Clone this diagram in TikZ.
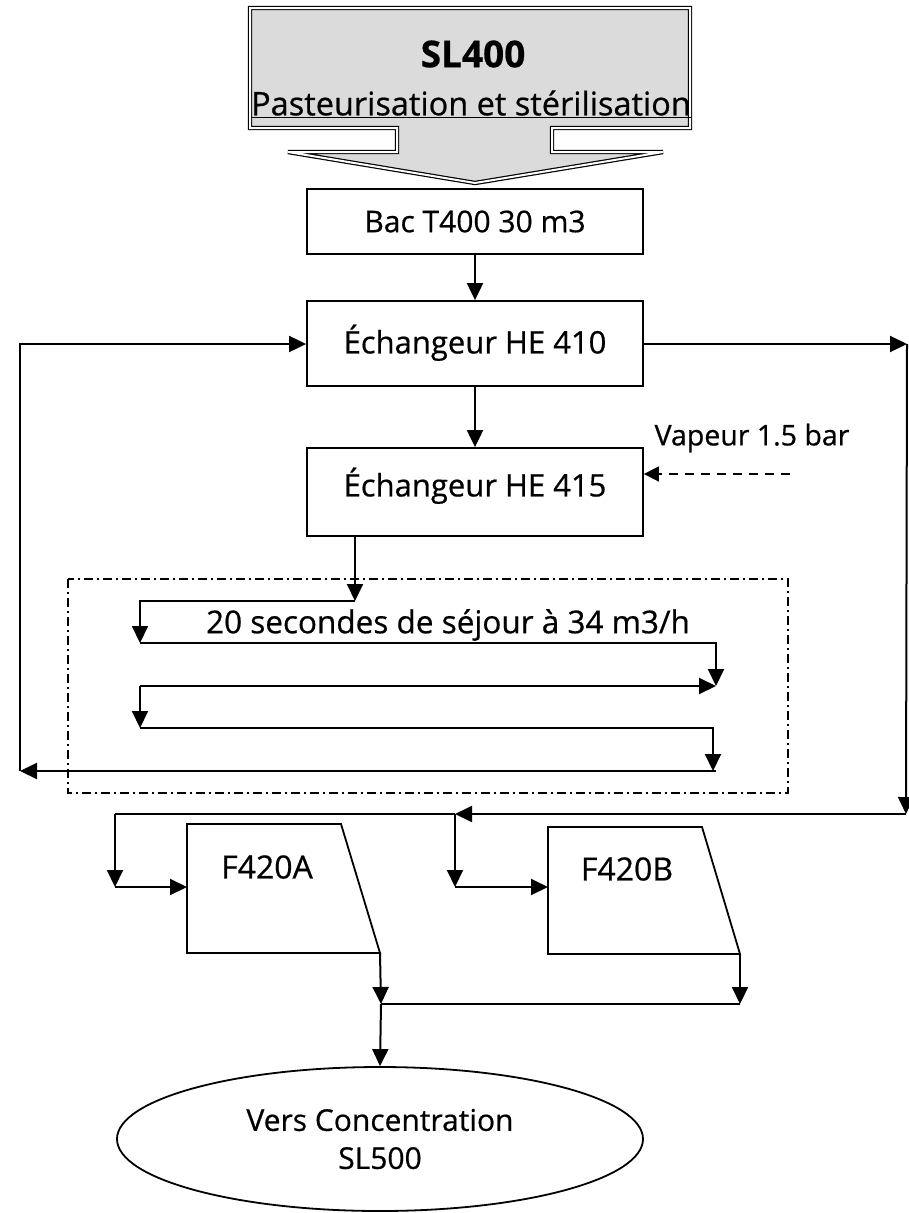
\documentclass[tikz,border=0pt]{standalone}
\usepackage{fontspec}
\setmainfont{Open Sans}[FakeBold=0.6]
\usetikzlibrary{arrows.meta,shapes.geometric}
\begin{document}
\begin{tikzpicture}[x=1pt,y=-1pt,
  every node/.style={font=\fontsize{30}{36}\selectfont},
  box/.style={draw,line width=1.8pt,minimum width=336pt,inner sep=0pt},
  arr/.style={line width=2pt,-{Triangle[length=17pt,width=16pt]}},
  ln/.style={line width=2pt},
  shp/.style={draw,line width=1.8pt,line join=miter}]
\useasboundingbox (0,0) rectangle (908,1213);

% banner
\path[fill=black!14,draw,line width=1.2pt,double distance=2pt]
  (250,8) -- (690,8) -- (690,128) -- (552,128) -- (552,152) -- (663,152)
  -- (475,183) -- (288,152) -- (397,152) -- (397,128) -- (250,128) -- cycle;
\node[font=\fontsize{37}{42}\selectfont\bfseries] (t1) at (473,54) {SL400};
\node[font=\fontsize{32.5}{38}\selectfont,inner sep=0pt] (t2) at (471,104) {\underline{Pasteurisation et stérilisation}};

% boxes
\node[box,minimum height=65pt] (bac) at (475,221.5) {Bac T400 30 m3};
\node[box,minimum height=85pt,font=\fontsize{31}{36}\selectfont] (he410) at (475,343.5) {\raisebox{9pt}{Échangeur HE 410}};
\node[box,minimum height=88pt,font=\fontsize{31}{36}\selectfont] (he415) at (475,492) {\raisebox{20pt}{Échangeur HE 415}};

\draw[arr] (bac.south) -- (he410.north);
\draw[arr] (he410.south) -- (he415.north);

% vapeur
\node[font=\fontsize{28.5}{32}\selectfont] (vap) at (752,438) {Vapeur 1.5 bar};
\coordinate (vs) at (790,474);
\draw[line width=1.7pt,dash pattern=on 9pt off 7pt,-{Triangle[length=15pt,width=15pt]}] (vs) -- (vs -| he415.east);

% right loop
\coordinate (rt) at (907,344);
\coordinate (rb) at (906,814);
\coordinate (jB) at (455,814);
\coordinate (jA) at (115,814);
\draw[arr] (he410.east |- rt) -- (rt);
\draw[arr] (rt) -- (rb);
\draw[arr] (rb) -- (jB);
\draw[ln] (jB) -- (jA);

% dash-dot box
\draw[line width=1.3pt,dash pattern=on 9pt off 4pt on 2pt off 4pt] (68,579) rectangle (788,793);

% serpentine
\coordinate (s0) at (355,536);
\coordinate (s1) at (355,601);
\coordinate (a1) at (140,601);
\coordinate (a2) at (140,643);
\coordinate (b2) at (716,643);
\coordinate (b3) at (716,686);
\coordinate (a3) at (140,686);
\coordinate (a4) at (140,728);
\coordinate (b4) at (713,728);
\coordinate (b5) at (713,771);
\coordinate (lb) at (20,771);
\draw[arr] (s0) -- (s1);
\draw[arr] (s1) -- (a1) -- (a2);
\draw[arr] (a2) -- (b2) -- (b3);
\draw[arr] (a3) -- (b3);
\draw[arr] (a3) -- (a4);
\draw[arr] (a4) -- (b4) -- (b5);
\draw[arr] (b5 -| b3) -- (lb);
\draw[arr] (lb) |- (he410.west |- rt);
\node[anchor=south,inner sep=1pt,font=\fontsize{31.5}{36}\selectfont] (sej) at (448,642) {20 secondes de séjour à 34 m3/h};

% filters
\coordinate (A1) at (187,824); \coordinate (A2) at (341,824);
\coordinate (A3) at (380,953); \coordinate (A4) at (187,953);
\draw[shp] (A1) -- (A2) -- (A3) -- (A4) -- cycle;
\node[font=\fontsize{32}{36}\selectfont] (fA) at (267,867) {F420A};
\coordinate (B1) at (548,827); \coordinate (B2) at (702,827);
\coordinate (B3) at (740,954); \coordinate (B4) at (548,954);
\draw[shp] (B1) -- (B2) -- (B3) -- (B4) -- cycle;
\node[font=\fontsize{32}{36}\selectfont] (fB) at (627,869) {F420B};

\coordinate (dA) at (115,887);
\coordinate (dB) at (455,887);
\draw[arr] (jA) -- (dA);
\draw[arr] (dA) -- (dA -| A1);
\draw[arr] (jB) -- (dB);
\draw[arr] (dB) -- (dB -| B1);

% merge
\coordinate (mA) at (381,1004);
\coordinate (mB) at (740,1004);
\draw[arr] (A3) -- (mA);
\draw[arr] (B3) -- (mB);
\draw[ln] (mA) -- (mB);

\node[draw,ellipse,line width=1.8pt,minimum width=526pt,minimum height=144pt,inner sep=0pt,align=center,font=\fontsize{30}{38}\selectfont] (ell) at (380,1139) {Vers Concentration\\SL500};
\draw[arr] (mA) -- (ell.north);
\end{tikzpicture}
\end{document}
